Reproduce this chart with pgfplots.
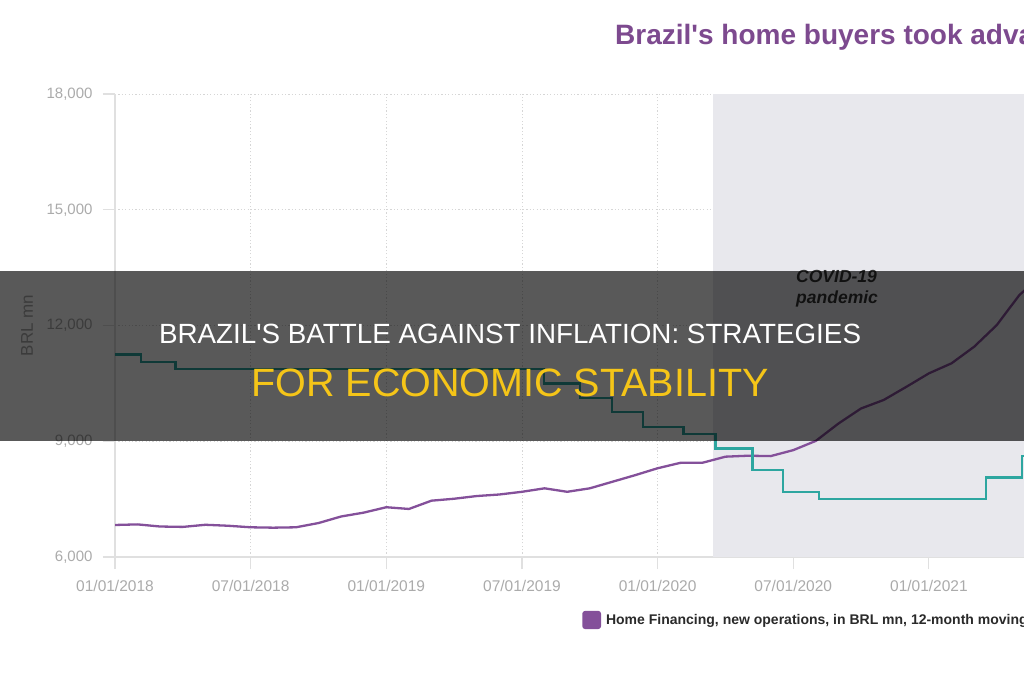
\documentclass[border=0pt]{standalone}
\usepackage{pgfplots}
\usepackage{pgfplotstable}
\pgfplotsset{compat=1.18}
\usepackage{fontspec}
\setmainfont{Liberation Sans}[Ligatures=TeXOff]

\definecolor{homepurple}{HTML}{84509A}
\definecolor{selicteal}{HTML}{2DA6A0}
\definecolor{titlepurple}{HTML}{7D4A8F}
\definecolor{covidgray}{HTML}{E8E8ED}
\definecolor{ticklabel}{HTML}{ABABAB}
\definecolor{axisline}{HTML}{E0E0E0}
\definecolor{gridline}{HTML}{D6D6D6}
\definecolor{banneryellow}{HTML}{F5C518}
\definecolor{legendtext}{HTML}{2A2A2A}

% Home financing, new operations (BRL mn, 12-month moving average);
% x = months since 01/01/2018
\pgfplotstableread{
m value
0 6830
1 6845
2 6790
3 6780
4 6835
5 6810
6 6770
7 6760
8 6770
9 6880
10 7050
11 7150
12 7290
13 7245
14 7460
15 7510
16 7580
17 7620
18 7690
19 7780
20 7690
21 7780
22 7950
23 8120
24 8300
25 8440
26 8445
27 8600
28 8625
29 8615
30 8770
31 9010
32 9460
33 9850
34 10070
35 10410
36 10760
37 11020
38 11450
39 12010
40 12790
41 13300
}\homefinancing

% Selic policy rate (%), step changes at Copom decisions
\pgfplotstableread{
m rate
0 7.00
1.15 6.75
2.67 6.50
18.97 6.00
20.56 5.50
21.97 5.00
23.35 4.50
25.15 4.25
26.56 3.75
28.19 3.00
29.55 2.25
31.13 2.00
38.53 2.75
40.13 3.50
41.5 4.25
43.1 5.25
44 5.25
}\selic

% pandemic period (start month)
\pgfplotstableread{
m lo hi
26.46 6000 18000
44 6000 18000
}\pandemic

\begin{document}
\begin{tikzpicture}
\fill[white] (0pt,0pt) rectangle (1024pt,680pt);
\begin{scope}
\clip (0pt,0pt) rectangle (1024pt,680pt);

% chart title
\node[anchor=base west, inner sep=0pt, text=titlepurple,
      font=\fontsize{28}{31}\selectfont\bfseries]
  at (615pt,635pt) {Brazil's home buyers took advantage of record-low rates};

\begin{axis}[
  scale only axis,
  at={(115pt,123pt)}, anchor=south west,
  width=994.8pt, height=463pt,
  xmin=0, xmax=44, ymin=6000, ymax=18000,
  axis x line*=bottom, axis y line*=left,
  axis line style={axisline, line width=1.3pt},
  tick align=outside,
  major tick length=12pt,
  tick style={axisline, line width=1.1pt},
  xtick={0,6,12,18,24,30,36},
  xticklabels={01/01/2018,07/01/2018,01/01/2019,07/01/2019,01/01/2020,07/01/2020,01/01/2021},
  ytick={6000,9000,12000,15000,18000},
  yticklabels={{6,000},{9,000},{12,000},{15,000},{18,000}},
  scaled y ticks=false,
  tick label style={text=ticklabel, font=\fontsize{15}{17}\selectfont},
  xticklabel style={yshift=-8pt, font=\fontsize{15.5}{17}\selectfont},
  yticklabel style={xshift=-7pt},
  ylabel={BRL mn},
  ylabel style={at={(axis description cs:-0.0885,0.5)}, anchor=center,
                text=ticklabel, font=\fontsize{17}{19}\selectfont},
  grid=major,
  major grid style={gridline, line width=0.9pt, dash pattern=on 1.2pt off 2.2pt},
  legend style={at={(0.4665,-0.136)}, anchor=west, draw=none, fill=none,
                font=\fontsize{14}{16}\selectfont\bfseries, text=legendtext},
  legend cell align=left,
]
  \addplot[draw=none, fill=covidgray, forget plot]
    table[x=m, y=hi] {\pandemic} \closedcycle;
  \addplot[homepurple, line width=2.3pt, line join=round,
           legend image code/.code={\fill[homepurple, rounded corners=2pt] (0pt,-8pt) rectangle (16.5pt,8pt);}]
    table[x=m, y=value] {\homefinancing};
  \addlegendentry{\hspace{3pt}Home Financing, new operations, in BRL mn, 12-month moving average (left)}
\end{axis}

\begin{axis}[
  scale only axis,
  at={(115pt,123pt)}, anchor=south west,
  width=994.8pt, height=463pt,
  xmin=0, xmax=44, ymin=0, ymax=16,
  hide axis,
]
  \addplot[selicteal, line width=2.3pt, const plot] table[x=m, y=rate] {\selic};
\end{axis}

% pandemic annotation
\node[anchor=north west, align=left, inner sep=0pt, text=black!80,
      font=\fontsize{17.5}{21}\selectfont\bfseries\itshape]
  at (796pt,410pt) {COVID-19\\pandemic};

% banner across the middle
\fill[black, opacity=0.65] (0pt,239pt) rectangle (1024pt,409pt);
\node[text=white, inner sep=0pt, font=\fontsize{27.8}{31}\selectfont]
  at (510pt,346pt) {BRAZIL'S BATTLE AGAINST INFLATION: STRATEGIES};
\node[text=banneryellow, inner sep=0pt, font=\fontsize{39.5}{44}\selectfont]
  at (510pt,297pt) {FOR ECONOMIC STABILITY};
\end{scope}
\pgfresetboundingbox
\path[use as bounding box] (0pt,0pt) rectangle (1024pt,680pt);
\end{tikzpicture}
\end{document}
